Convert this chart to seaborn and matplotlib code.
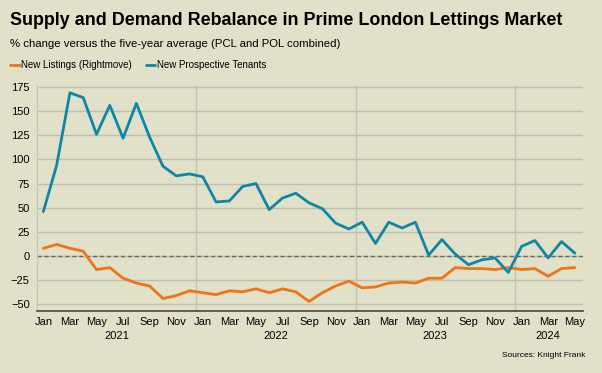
import numpy as np
import pandas as pd
import matplotlib.pyplot as plt
import seaborn as sns

# monthly series, Jan 2021 - May 2024
month_names = ['Jan', 'Feb', 'Mar', 'Apr', 'May', 'Jun', 'Jul', 'Aug', 'Sep', 'Oct', 'Nov', 'Dec']
years = [2021, 2022, 2023, 2024]
months = [f'{m} {y}' for y in years for m in month_names][:41]

new_listings = [8, 12, 8, 5, -14, -12, -23, -28, -31, -44, -41, -36,
                -38, -40, -36, -37, -34, -38, -34, -37, -47, -38, -31, -26,
                -33, -32, -28, -27, -28, -23, -23, -12, -13, -13, -14, -12,
                -14, -13, -21, -13, -12]
new_tenants = [46, 94, 169, 164, 126, 156, 122, 158, 123, 93, 83, 85,
               82, 56, 57, 72, 75, 48, 60, 65, 55, 49, 34, 28,
               35, 13, 35, 29, 35, 1, 17, 2, -9, -4, -2, -17,
               10, 16, -2, 15, 3]

bg = '#E1E0C9'
orange = '#EE7414'
blue = '#0E87A6'

df = pd.DataFrame({'x': range(len(months)), 'month': months,
                   'New Listings (Rightmove)': new_listings,
                   'New Prospective Tenants': new_tenants})
long_df = df.melt(id_vars=['x', 'month'], var_name='series', value_name='pct')

sns.set_style('white')
plt.rcParams['font.family'] = ['Liberation Sans', 'DejaVu Sans']
plt.rcParams['text.color'] = 'black'
plt.rcParams['xtick.color'] = 'black'
plt.rcParams['ytick.color'] = 'black'

fig = plt.figure(figsize=(6.02, 3.73), dpi=100, facecolor=bg)
ax = fig.add_axes([0.061, 0.166, 0.907, 0.606])
ax.set_facecolor(bg)

sns.lineplot(data=long_df, x='x', y='pct', hue='series',
             palette=[orange, blue], linewidth=2, legend=False, ax=ax)

ax.axhline(0, color='#666666', linestyle=(0, (3, 2)), linewidth=1, zorder=1)

ax.set_xlim(-0.5, 40.6)
ax.set_ylim(-57, 177)
ax.set_yticks(np.arange(-50, 176, 25))
ax.yaxis.grid(True, color='#BFBFB0', linewidth=1)
for b in [11.5, 23.5, 35.5]:
    ax.axvline(b, color='#C4C4B6', linewidth=1, zorder=0)

xt = list(range(0, 41, 2))
ax.set_xticks(xt)
ax.set_xticklabels([months[i].split()[0] for i in xt], fontsize=8)
ax.tick_params(axis='y', labelsize=8, length=0, pad=5)
ax.tick_params(axis='x', length=0, pad=4)
ax.set_xlabel('')
ax.set_ylabel('')

for s in ['top', 'right']:
    ax.spines[s].set_visible(False)
ax.spines['left'].set_color('#C4C4B6')
ax.spines['bottom'].set_color('#444444')
ax.spines['bottom'].set_linewidth(1.2)

# year labels under the month ticks
year_centres = [5.5, 17.5, 29.5, 38]
for yr, c in zip(years, year_centres):
    ax.text(c, -0.088, str(yr), transform=ax.get_xaxis_transform(),
            ha='center', va='top', fontsize=8)

fig.text(0.017, 0.945, 'Supply and Demand Rebalance in Prime London Lettings Market',
         fontsize=12.9, fontweight='bold', va='center', ha='left')
fig.text(0.017, 0.882, '% change versus the five-year average (PCL and POL combined)',
         fontsize=8.2, va='center', ha='left')

# legend drawn as text with short swatches
ly = 0.826
fig.lines.append(plt.Line2D([0.017, 0.033], [ly, ly], color=orange, linewidth=2, transform=fig.transFigure))
fig.text(0.035, ly, 'New Listings (Rightmove)', fontsize=7, va='center', ha='left')
fig.lines.append(plt.Line2D([0.242, 0.258], [ly, ly], color=blue, linewidth=2, transform=fig.transFigure))
fig.text(0.260, ly, 'New Prospective Tenants', fontsize=7, va='center', ha='left')

fig.text(0.972, 0.048, 'Sources: Knight Frank', fontsize=6, va='center', ha='right')

fig.savefig('out.png', dpi=100, facecolor=bg)
